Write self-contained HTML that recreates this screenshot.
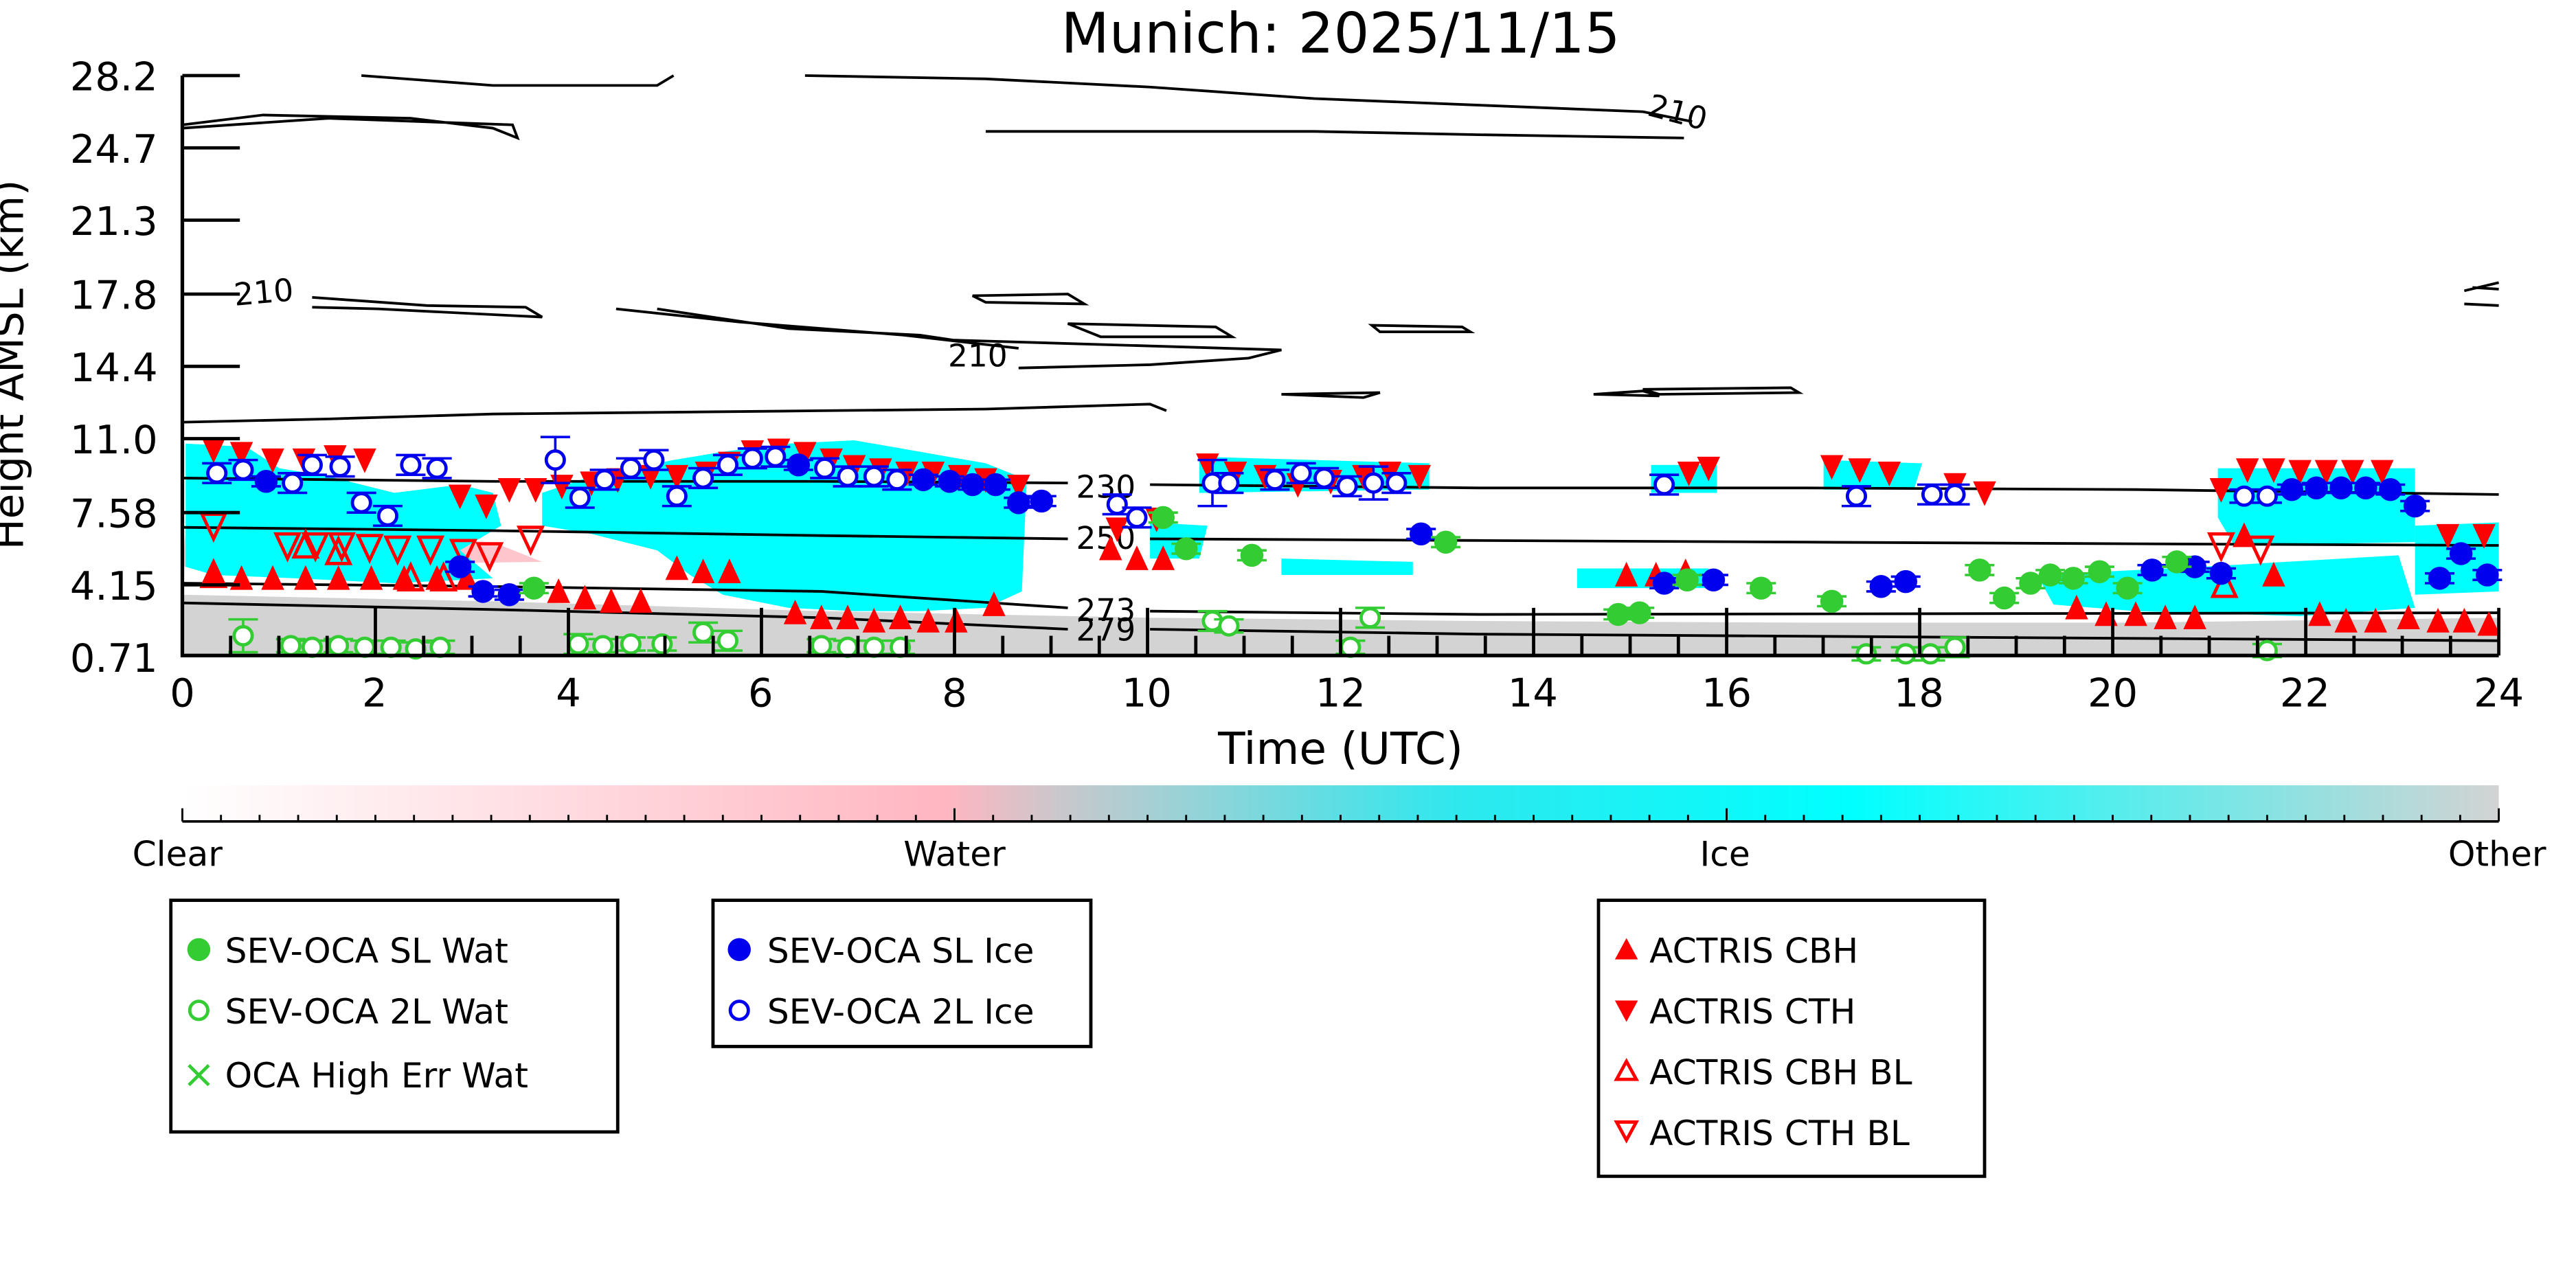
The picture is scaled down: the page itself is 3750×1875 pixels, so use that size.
<!DOCTYPE html>
<html><head><meta charset="utf-8">
<style>
html,body{margin:0;padding:0;background:#fff;}
svg{display:block;font-family:"DejaVu Sans","Liberation Sans",sans-serif;}
</style></head>
<body>
<svg id="s" width="3750" height="1875" viewBox="0 0 1568 784" xmlns="http://www.w3.org/2000/svg">
<defs>
<linearGradient id="cb" x1="0" x2="1" y1="0" y2="0">
<stop offset="0" stop-color="#ffffff"/>
<stop offset="0.33" stop-color="#ffb6c1"/>
<stop offset="0.38" stop-color="#c8c8cc"/>
<stop offset="0.55" stop-color="#2ee8ee"/>
<stop offset="0.72" stop-color="#00ffff"/>
<stop offset="1" stop-color="#d3d3d3"/>
</linearGradient>
</defs>
<rect width="1568" height="784" fill="#fff"/>
<text x="816" y="32" font-size="34" text-anchor="middle">Munich: 2025/11/15</text>

<path d="M111,362 L300,366 L500,372 L700,376 L900,378 L1100,379 L1300,379 L1521,376 L1521,399 L111,399 Z" fill="#d3d3d3"/>
<path d="M113,322 L300,330 L330,342 L111,345 Z" fill="#ffb6c1" opacity="0.8"/>
<g fill="#00ffff">
<path d="M113,270 L150,272 L170,285 L200,290 L240,300 L280,295 L300,300 L305,320 L280,335 L300,352 L240,355 L180,352 L130,350 L113,345 Z"/>
<path d="M330,300 L360,290 L410,280 L440,275 L480,270 L520,268 L560,275 L600,282 L625,292 L622,360 L600,370 L560,372 L520,372 L480,370 L440,362 L420,350 L400,335 L360,325 L330,320 Z"/>
<path d="M700,318 L735,320 L730,340 L700,340 Z"/>
<path d="M730,278 L870,282 L870,298 L730,300 Z"/>
<path d="M1005,283 L1045,283 L1045,300 L1005,300 Z"/>
<path d="M1110,280 L1170,282 L1165,298 L1110,298 Z"/>
<path d="M1350,285 L1470,285 L1470,330 L1360,332 L1350,315 Z"/>
<path d="M1470,320 L1521,318 L1521,360 L1470,362 Z"/>
<path d="M1240,350 L1340,345 L1460,338 L1470,370 L1400,375 L1300,372 L1250,368 Z"/>
<path d="M960,346 L1040,346 L1040,358 L960,358 Z"/>
<path d="M780,340 L860,342 L860,350 L780,350 Z"/>
</g>

<g fill="none" stroke="#000" stroke-width="1.6">
<path d="M111,76 L160,70 L250,72 L300,78 L315,84 L312,76 L200,72 L111,78"/>
<path d="M220,46 L300,52 L400,52 L410,46 M490,46 L600,48 L700,53 L800,60 L900,64 L1000,68 L1030,74 M600,80 L800,80 L900,82 L1025,84"/>
<path d="M111,257 L200,255 L300,252 L400,251 L500,250 L600,249 L700,246 L710,250"/>
<path d="M190,181 L260,186 L320,187 L330,193 L230,188 L190,187"/>
<path d="M375,188 L450,196 L550,204 L620,212 M620,224 L700,222 L760,218 L780,213 L680,210 L580,207 L560,204 L480,200 L400,188"/>
<path d="M592,180 L650,179 L660,185 L600,184 Z M650,197 L740,199 L750,205 L670,205 Z M835,198 L890,199 L895,202 L840,202 Z M780,240 L840,239 L830,242 Z M970,240 L1000,238 L1010,241 Z M1000,237 L1090,236 L1095,239 L1010,240 Z"/>
<path d="M1500,177 L1521,172 M1505,175 L1521,176 M1500,185 L1521,186"/>
<path d="M111,291 L300,293 L500,293 L650,294 M700,295 L900,297 L1100,297 L1300,298 L1521,301"/>
<path d="M111,321 L300,323 L500,326 L650,328 M700,328 L900,329 L1100,330 L1300,331 L1521,332"/>
<path d="M111,355 L300,357 L500,360 L650,370 M700,372 L900,374 L1521,373"/>
<path d="M111,367 L300,371 L500,376 L650,383 M700,383 L900,386 L1521,390"/>
</g>
<g font-size="19">
<text x="1002" y="70" transform="rotate(15 1002 70)">210</text>
<text x="143" y="186" transform="rotate(-5 143 186)">210</text>
<text x="577" y="223">210</text>
<text x="655" y="303">230</text>
<text x="655" y="334">250</text>
<text x="655" y="378">273</text>
<text x="655" y="390">279</text>
</g>

<g id="marks"></g>

<g stroke="#000" stroke-width="2.2" fill="none">
<line x1="111" y1="46" x2="111" y2="400"/>
<line x1="110" y1="399" x2="1521" y2="399"/>
</g>
<g id="ticks" stroke="#000" stroke-width="2"></g>
<g font-size="24" text-anchor="end">
<text x="96" y="55">28.2</text><text x="96" y="99">24.7</text><text x="96" y="143">21.3</text>
<text x="96" y="188">17.8</text><text x="96" y="232">14.4</text><text x="96" y="276">11.0</text>
<text x="96" y="321">7.58</text><text x="96" y="365">4.15</text><text x="96" y="409">0.71</text>
</g>
<g font-size="24" text-anchor="middle">
<text x="111" y="430">0</text><text x="228" y="430">2</text><text x="346" y="430">4</text>
<text x="463" y="430">6</text><text x="581" y="430">8</text><text x="698" y="430">10</text>
<text x="816" y="430">12</text><text x="933" y="430">14</text><text x="1051" y="430">16</text>
<text x="1168" y="430">18</text><text x="1286" y="430">20</text><text x="1403" y="430">22</text>
<text x="1521" y="430">24</text>
</g>
<text x="816" y="465" font-size="27" text-anchor="middle">Time (UTC)</text>
<text transform="translate(14,222) rotate(-90)" font-size="25" text-anchor="middle">Height AMSL (km)</text>

<rect x="111" y="478" width="1410" height="22" fill="url(#cb)"/>
<g id="cbt" stroke="#000" stroke-width="1.2"></g>
<line x1="111" y1="500" x2="1521" y2="500" stroke="#000" stroke-width="1.5"/>
<g font-size="21" text-anchor="middle">
<text x="108" y="527">Clear</text><text x="581" y="527">Water</text>
<text x="1050" y="527">Ice</text><text x="1520" y="527">Other</text>
</g>

<g fill="none" stroke="#000" stroke-width="2">
<rect x="104" y="548" width="272" height="141"/>
<rect x="434" y="548" width="230" height="89"/>
<rect x="973" y="548" width="235" height="168"/>
</g>
<g font-size="21">
<circle cx="121" cy="578" r="7" fill="#33cc33"/>
<text x="137" y="586">SEV-OCA SL Wat</text>
<circle cx="121" cy="615" r="5.5" fill="none" stroke="#33cc33" stroke-width="2"/>
<text x="137" y="623">SEV-OCA 2L Wat</text>
<text x="121" y="662" fill="#33cc33" text-anchor="middle" font-size="24">×</text>
<text x="137" y="662">OCA High Err Wat</text>
<circle cx="450" cy="578" r="7" fill="#0000ee"/>
<text x="467" y="586">SEV-OCA SL Ice</text>
<circle cx="450" cy="615" r="5.5" fill="none" stroke="#0000ee" stroke-width="2"/>
<text x="467" y="623">SEV-OCA 2L Ice</text>
<polygon points="983,584 997,584 990,571" fill="#ff0000"/>
<text x="1004" y="586">ACTRIS CBH</text>
<polygon points="983,609 997,609 990,622" fill="#ff0000"/>
<text x="1004" y="623">ACTRIS CTH</text>
<polygon points="984,657 996,657 990,646" fill="none" stroke="#ff0000" stroke-width="2"/>
<text x="1004" y="660">ACTRIS CBH BL</text>
<polygon points="984,683 996,683 990,694" fill="none" stroke="#ff0000" stroke-width="2"/>
<text x="1004" y="697">ACTRIS CTH BL</text>
</g>
</svg>
<script>
(function(){
var NS="http://www.w3.org/2000/svg";
function el(p,t,a){var e=document.createElementNS(NS,t);for(var k in a)e.setAttribute(k,a[k]);p.appendChild(e);return e;}
var tk=document.getElementById('ticks');
[46,90,134,179,223,267,312,356].forEach(function(y){el(tk,'line',{x1:111,y1:y,x2:146,y2:y});});
for(var h=0;h<=24;h+=0.5){var x=111+h*58.75;var maj=(h%2===0);
 el(tk,'line',{x1:x,y1:399,x2:x,y2:maj?370:387});}
var cb=document.getElementById('cbt');
for(var i=0;i<=60;i++){var x=111+i*1410/60;el(cb,'line',{x1:x,y1:500,x2:x,y2:(i%20===0)?492:496});}
var m=document.getElementById('marks');
function up(x,y,fill){el(m,'polygon',{points:(x-7)+','+(y+7)+' '+(x+7)+','+(y+7)+' '+x+','+(y-8),fill:fill?'#ff0000':'none',stroke:'#ff0000','stroke-width':fill?0:2});}
function dn(x,y,fill){el(m,'polygon',{points:(x-7)+','+(y-7)+' '+(x+7)+','+(y-7)+' '+x+','+(y+8),fill:fill?'#ff0000':'none',stroke:'#ff0000','stroke-width':fill?0:2});}
function circ(x,y,col,fill,err){if(err){el(m,'line',{x1:x,y1:y-err,x2:x,y2:y+err,stroke:col,'stroke-width':1.5});el(m,'line',{x1:x-9,y1:y-err,x2:x+9,y2:y-err,stroke:col,'stroke-width':1.5});el(m,'line',{x1:x-9,y1:y+err,x2:x+9,y2:y+err,stroke:col,'stroke-width':1.5});}
 el(m,'circle',{cx:x,cy:y,r:fill?7:5.5,fill:fill?col:'#fff',stroke:col,'stroke-width':fill?0:2});}
var B='#0000ee',G='#33cc33';
[[130,274],[147,276],[166,280],[185,280],[204,278],[222,280],[280,302],[296,308],[310,298],[326,298],[342,296],[360,294],[376,292],[396,290],[412,290],[430,288],[444,282],[458,275],[474,274],[490,276],[506,280],[520,284],[536,286],[552,288],[568,288],[584,290],[600,292],[620,296],[680,322],[704,316],[735,283],[752,288],[770,290],[790,295],[810,293],[830,290],[846,288],[864,290],[1028,288],[1040,285],[1115,284],[1132,286],[1150,288],[1190,295],[1208,300],[1352,298],[1368,286],[1384,286],[1400,287],[1416,287],[1432,287],[1450,287],[1490,326],[1512,326]].forEach(function(p){dn(p[0],p[1],1);});
[[130,320],[175,332],[192,332],[208,332],[225,333],[242,334],[262,334],[282,336],[298,338],[323,328],[1352,332],[1376,334]].forEach(function(p){dn(p[0],p[1],0);});
[[130,350],[147,352],[166,352],[186,352],[206,352],[226,352],[246,352],[266,352],[284,352],[340,360],[356,364],[372,366],[390,366],[412,346],[428,348],[444,348],[484,373],[500,376],[516,376],[532,378],[548,376],[565,378],[582,378],[605,368],[676,334],[692,340],[708,340],[990,350],[1008,350],[1026,348],[1264,370],[1282,374],[1300,374],[1318,376],[1336,376],[1366,326],[1384,350],[1412,374],[1428,378],[1446,378],[1466,376],[1484,378],[1500,378],[1515,380]].forEach(function(p){up(p[0],p[1],1);});
[[130,350],[186,332],[206,336],[250,352],[270,352],[1354,356]].forEach(function(p){up(p[0],p[1],0);});
[[162,293],[280,345],[294,360],[310,362],[486,283],[562,292],[578,293],[592,295],[606,295],[620,306],[634,305],[865,325],[1013,355],[1043,353],[1145,357],[1160,354],[1310,347],[1336,345],[1352,349],[1395,298],[1410,297],[1425,297],[1440,297],[1455,298],[1470,308],[1485,352],[1498,337],[1514,350]].forEach(function(p){circ(p[0],p[1],B,1,3);});
[[132,288,6],[148,286,6],[178,294,6],[190,283,6],[207,284,6],[220,306,6],[236,314,6],[250,283,6],[266,285,6],[338,280,14],[353,303,6],[368,292,6],[384,285,6],[398,280,6],[412,302,6],[428,291,6],[443,283,6],[458,279,6],[472,278,6],[502,285,6],[516,290,6],[532,290,6],[546,292,6],[680,307,6],[692,315,6],[738,294,14],[748,294,6],[776,292,6],[792,288,6],[806,291,6],[820,296,6],[836,294,10],[850,294,6],[1013,295,6],[1130,302,6],[1176,301,6],[1190,301,6],[1366,302,4],[1380,302,4]].forEach(function(p){circ(p[0],p[1],B,0,p[2]);});
[[325,358],[708,315],[722,334],[762,338],[880,330],[985,374],[998,373],[1027,353],[1072,358],[1115,366],[1205,347],[1220,364],[1236,355],[1248,350],[1262,352],[1278,348],[1295,358],[1325,342]].forEach(function(p){circ(p[0],p[1],G,1,3);});
[[148,387,10],[177,393,4],[190,394,4],[206,393,4],[222,394,4],[238,394,4],[253,395,4],[268,394,4],[352,392,6],[367,393,4],[384,392,4],[403,392,4],[428,385,6],[443,390,6],[500,393,4],[516,394,4],[532,394,4],[548,394,4],[738,378,6],[748,381,4],[822,394,4],[834,376,6],[1136,398,4],[1160,398,4],[1175,398,4],[1190,394,6],[1380,396,4]].forEach(function(p){circ(p[0],p[1],G,0,p[2]);});
})();
</script>
</body></html>
